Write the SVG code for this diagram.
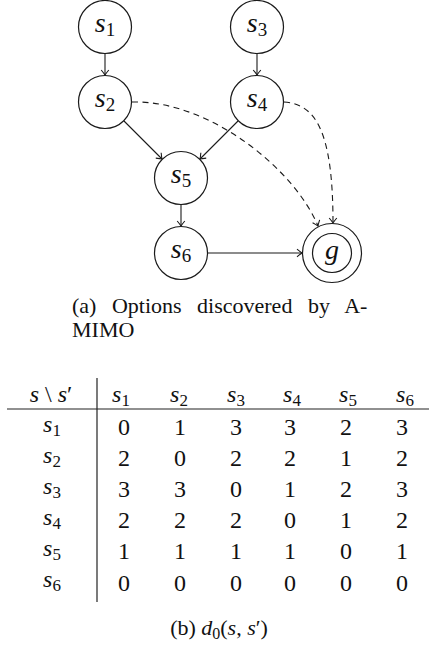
<svg xmlns="http://www.w3.org/2000/svg" width="430" height="645" viewBox="0 0 430 645">
<style>
text{font-family:'Liberation Serif',serif;fill:#111}
.node circle{fill:#fff;stroke:#1a1a1a;stroke-width:1.2}
.lbl{font-size:28px;text-anchor:middle}
.it{font-style:italic}
.sub{font-style:normal;font-size:19px}
.edge{fill:none;stroke:#1a1a1a;stroke-width:1.1}
.dash{stroke-dasharray:6 4.5}
.cap{font-size:22px}
.tb{font-size:24px;text-anchor:middle}
.tsub{font-style:normal;font-size:17px}
.rule{stroke:#222;stroke-width:1.2}
</style>
<defs>
<marker id="to" viewBox="-6 -5 7 10" refX="0" refY="0" markerWidth="7" markerHeight="10" orient="auto" markerUnits="userSpaceOnUse">
<path d="M-5,-3.8 Q-1.5,-0.9 0,0 Q-1.5,0.9 -5,3.8" fill="none" stroke="#1a1a1a" stroke-width="1.1"/>
</marker>
</defs>

<g id="connectors">
<line class="edge" x1="105" y1="54" x2="105" y2="75" marker-end="url(#to)"/>
<line class="edge" x1="257" y1="54" x2="257" y2="75" marker-end="url(#to)"/>
<line class="edge" x1="124" y1="121" x2="162" y2="159" marker-end="url(#to)"/>
<line class="edge" x1="238" y1="121" x2="200" y2="159" marker-end="url(#to)"/>
<line class="edge" x1="181" y1="205" x2="181" y2="226" marker-end="url(#to)"/>
<line class="edge" x1="208" y1="253" x2="302" y2="253" marker-end="url(#to)"/>
<path class="edge dash" d="M132,102 C210,100 295,170 318,226" marker-end="url(#to)"/>
<path class="edge dash" d="M284,102 C315,104 333,130 333,223" marker-end="url(#to)"/>
</g>

<g id="s1" class="node"><circle cx="105" cy="27" r="26.5"/><text font-family="Liberation Serif" class="lbl" x="105" y="32"><tspan class="it">s</tspan><tspan class="sub" dy="4">1</tspan></text></g>
<g id="s3" class="node"><circle cx="257" cy="27" r="26.5"/><text font-family="Liberation Serif" class="lbl" x="257" y="32"><tspan class="it">s</tspan><tspan class="sub" dy="4">3</tspan></text></g>
<g id="s2" class="node"><circle cx="105" cy="102" r="26.5"/><text font-family="Liberation Serif" class="lbl" x="105" y="107"><tspan class="it">s</tspan><tspan class="sub" dy="4">2</tspan></text></g>
<g id="s4" class="node"><circle cx="257" cy="102" r="26.5"/><text font-family="Liberation Serif" class="lbl" x="257" y="107"><tspan class="it">s</tspan><tspan class="sub" dy="4">4</tspan></text></g>
<g id="s5" class="node"><circle cx="181" cy="178" r="26.5"/><text font-family="Liberation Serif" class="lbl" x="181" y="183"><tspan class="it">s</tspan><tspan class="sub" dy="4">5</tspan></text></g>
<g id="s6" class="node"><circle cx="181" cy="253" r="26.5"/><text font-family="Liberation Serif" class="lbl" x="181" y="258"><tspan class="it">s</tspan><tspan class="sub" dy="4">6</tspan></text></g>
<g id="g" class="node"><circle cx="332" cy="253" r="29.5"/><circle cx="332" cy="253" r="19.5"/><text font-family="Liberation Serif" class="lbl it" x="332" y="259">g</text></g>

<g id="caption-a">
<text font-family="Liberation Serif" class="cap" x="72" y="313" word-spacing="10">(a) Options discovered by A-</text>
<text font-family="Liberation Serif" class="cap" x="72" y="337">MIMO</text>
</g>

<g id="table">
<line class="rule" x1="7" y1="409" x2="429" y2="409"/>
<line class="rule" x1="97" y1="378" x2="97" y2="602"/>
<text font-family="Liberation Serif" class="tb" x="51" y="402"><tspan class="it">s</tspan> \ <tspan class="it">s</tspan>′</text>
<text font-family="Liberation Serif" class="tb" x="121" y="402"><tspan class="it">s</tspan><tspan class="tsub" dy="4">1</tspan></text>
<text font-family="Liberation Serif" class="tb" x="179" y="402"><tspan class="it">s</tspan><tspan class="tsub" dy="4">2</tspan></text>
<text font-family="Liberation Serif" class="tb" x="236" y="402"><tspan class="it">s</tspan><tspan class="tsub" dy="4">3</tspan></text>
<text font-family="Liberation Serif" class="tb" x="292" y="402"><tspan class="it">s</tspan><tspan class="tsub" dy="4">4</tspan></text>
<text font-family="Liberation Serif" class="tb" x="348" y="402"><tspan class="it">s</tspan><tspan class="tsub" dy="4">5</tspan></text>
<text font-family="Liberation Serif" class="tb" x="405" y="402"><tspan class="it">s</tspan><tspan class="tsub" dy="4">6</tspan></text>
<text font-family="Liberation Serif" class="tb" x="52" y="432"><tspan class="it">s</tspan><tspan class="tsub" dy="4">1</tspan></text>
<text font-family="Liberation Serif" class="tb" x="52" y="463"><tspan class="it">s</tspan><tspan class="tsub" dy="4">2</tspan></text>
<text font-family="Liberation Serif" class="tb" x="52" y="494"><tspan class="it">s</tspan><tspan class="tsub" dy="4">3</tspan></text>
<text font-family="Liberation Serif" class="tb" x="52" y="525"><tspan class="it">s</tspan><tspan class="tsub" dy="4">4</tspan></text>
<text font-family="Liberation Serif" class="tb" x="52" y="556"><tspan class="it">s</tspan><tspan class="tsub" dy="4">5</tspan></text>
<text font-family="Liberation Serif" class="tb" x="52" y="587"><tspan class="it">s</tspan><tspan class="tsub" dy="4">6</tspan></text>

<text font-family="Liberation Serif" class="tb" y="435"><tspan x="124">0</tspan><tspan x="180">1</tspan><tspan x="236">3</tspan><tspan x="290">3</tspan><tspan x="346">2</tspan><tspan x="402">3</tspan></text>
<text font-family="Liberation Serif" class="tb" y="466"><tspan x="124">2</tspan><tspan x="180">0</tspan><tspan x="236">2</tspan><tspan x="290">2</tspan><tspan x="346">1</tspan><tspan x="402">2</tspan></text>
<text font-family="Liberation Serif" class="tb" y="497"><tspan x="124">3</tspan><tspan x="180">3</tspan><tspan x="236">0</tspan><tspan x="290">1</tspan><tspan x="346">2</tspan><tspan x="402">3</tspan></text>
<text font-family="Liberation Serif" class="tb" y="528"><tspan x="124">2</tspan><tspan x="180">2</tspan><tspan x="236">2</tspan><tspan x="290">0</tspan><tspan x="346">1</tspan><tspan x="402">2</tspan></text>
<text font-family="Liberation Serif" class="tb" y="559"><tspan x="124">1</tspan><tspan x="180">1</tspan><tspan x="236">1</tspan><tspan x="290">1</tspan><tspan x="346">0</tspan><tspan x="402">1</tspan></text>
<text font-family="Liberation Serif" class="tb" y="591"><tspan x="124">0</tspan><tspan x="180">0</tspan><tspan x="236">0</tspan><tspan x="290">0</tspan><tspan x="346">0</tspan><tspan x="402">0</tspan></text>
</g>

<g id="caption-b">
<text font-family="Liberation Serif" class="cap" x="219" y="635" text-anchor="middle" font-size="23">(b) <tspan class="it">d</tspan><tspan font-size="16" dy="4">0</tspan><tspan dy="-4">(</tspan><tspan class="it">s</tspan>, <tspan class="it">s</tspan>′)</text>
</g>
</svg>
